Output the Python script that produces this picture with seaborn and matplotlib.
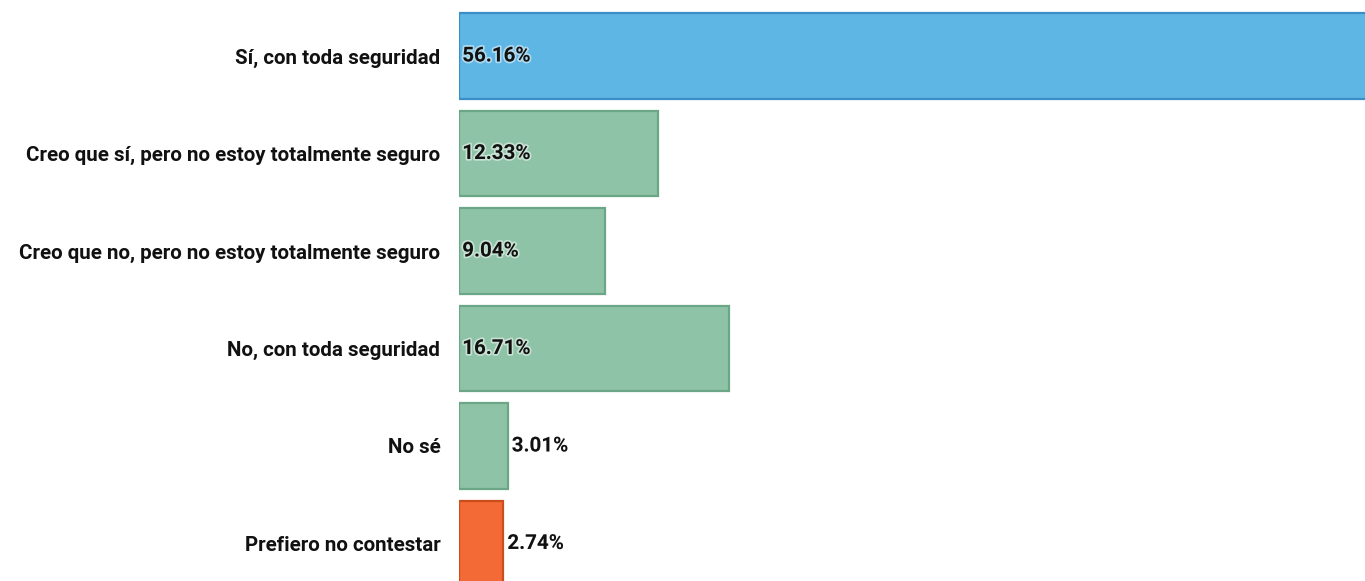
import matplotlib
matplotlib.use("Agg")
import matplotlib.pyplot as plt
import matplotlib.patheffects as pe
import seaborn as sns
import pandas as pd

categories = [
    "Sí, con toda seguridad",
    "Creo que sí, pero no estoy totalmente seguro",
    "Creo que no, pero no estoy totalmente seguro",
    "No, con toda seguridad",
    "No sé",
    "Prefiero no contestar",
]
values = [56.16, 12.33, 9.04, 16.71, 3.01, 2.74]
value_labels = ["56.16%", "12.33%", "9.04%", "16.71%", "3.01%", "2.74%"]
fill_colors = ["#5EB6E4", "#8FC3A7", "#8FC3A7", "#8FC3A7", "#8FC3A7", "#F46A36"]
edge_colors = ["#3A8EC6", "#6BA687", "#6BA687", "#6BA687", "#6BA687", "#C94E1C"]

sns.set_theme(style="white")
plt.rcParams["font.family"] = ["Roboto", "DejaVu Sans"]

df = pd.DataFrame({"cat": categories, "val": values})

fig = plt.figure(figsize=(13.65, 5.81), dpi=100)
ax = fig.add_axes([459 / 1365, 0, 1 - 459 / 1365, 1])

sns.barplot(data=df, x="val", y="cat", hue="cat", palette=fill_colors,
            legend=False, width=0.88, ax=ax, saturation=1)

for patch, ec in zip(ax.patches, edge_colors):
    patch.set_edgecolor(ec)
    patch.set_linewidth(1.6)

ax.set_xlim(0, 56.0)
ax.set_ylim(5.385, -0.574)

glow = [pe.withStroke(linewidth=2.5, foreground="white", alpha=0.5)]
for i, (v, lab) in enumerate(zip(values, value_labels)):
    if v > 8:
        x = 0.2
    else:
        x = v + 0.25
    ax.text(x, i, lab, va="center", ha="left", fontsize=14.8,
            fontweight="bold", color="#111111", path_effects=glow)

ax.set_xlabel("")
ax.set_ylabel("")
ax.set_xticks([])
ax.tick_params(axis="y", length=0, pad=13.5)
for lab in ax.get_yticklabels():
    lab.set_fontsize(14.8)
    lab.set_fontweight("bold")
    lab.set_color("#111111")
for s in ax.spines.values():
    s.set_visible(False)

fig.savefig("out.png", dpi=100)
